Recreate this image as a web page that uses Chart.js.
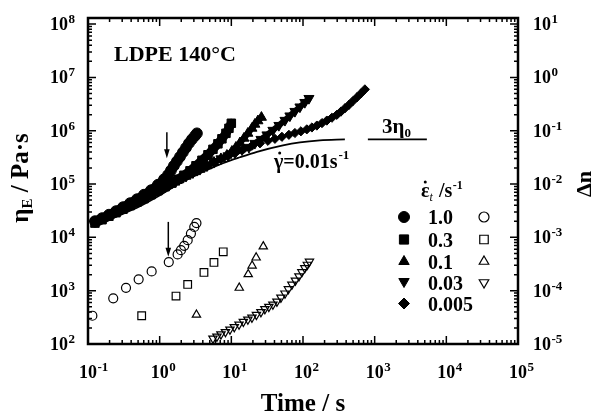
<!DOCTYPE html>
<html>
<head>
<meta charset="utf-8">
<script src="https://cdn.jsdelivr.net/npm/chart.js@4.4.0/dist/chart.umd.min.js"></script>
<style>
  html, body { margin: 0; padding: 0; background: #fff; }
  #wrap { width: 595px; height: 418px; }
</style>
</head>
<body>
<div id="wrap"><canvas id="grafico" width="595" height="418"></canvas></div>
<script>
// --- viscosidade elongacional ηE (Pa·s) x tempo (s), símbolos cheios ---
const t_10 = [0.125, 0.157, 0.196, 0.246, 0.308, 0.386, 0.482, 0.604, 0.757, 0.946, 1.15, 1.31, 1.44, 1.58, 1.74, 1.92, 2.11, 2.33, 2.56, 2.82, 3.11, 3.31];
const eta_10 = [2.01e4, 2.29e4, 2.66e4, 3.10e4, 3.68e4, 4.37e4, 5.19e4, 6.31e4, 7.65e4, 9.70e4, 1.23e5, 1.49e5, 1.81e5, 2.20e5, 2.67e5, 3.24e5, 3.94e5, 4.79e5, 5.81e5, 6.90e5, 8.02e5, 8.93e5];

const t_03 = [0.125, 0.157, 0.196, 0.246, 0.308, 0.386, 0.482, 0.604, 0.757, 0.946, 1.19, 1.48, 1.80, 2.18, 2.65, 3.21, 3.89, 4.72, 5.54, 6.50, 7.39, 8.41, 9.26, 10.0];
const eta_03 = [1.85e4, 2.14e4, 2.49e4, 2.90e4, 3.37e4, 3.93e4, 4.56e4, 5.31e4, 6.31e4, 7.50e4, 8.90e4, 1.04e5, 1.23e5, 1.46e5, 1.77e5, 2.20e5, 2.79e5, 3.54e5, 4.48e5, 5.68e5, 7.05e5, 8.93e5, 1.11e6, 1.38e6];

const t_01 = [0.386, 0.482, 0.604, 0.757, 0.946, 1.19, 1.48, 1.86, 2.33, 2.91, 3.65, 4.57, 5.72, 7.16, 8.68, 10.2, 11.6, 13.2, 15.0, 17.0, 19.4, 21.3, 23.5, 26.3];
const eta_01 = [3.93e4, 4.56e4, 5.31e4, 6.31e4, 7.50e4, 8.90e4, 1.04e5, 1.20e5, 1.40e5, 1.63e5, 1.89e5, 2.20e5, 2.56e5, 2.98e5, 3.46e5, 4.11e5, 4.89e5, 5.93e5, 7.21e5, 8.93e5, 1.11e6, 1.32e6, 1.53e6, 1.78e6];

const t_003 = [0.946, 1.19, 1.48, 1.86, 2.33, 2.91, 3.65, 4.57, 5.72, 7.16, 8.97, 11.2, 14.1, 17.6, 21.3, 25.9, 31.4, 38.0, 46.1, 56.0, 65.6, 77.1, 90.6, 106, 121];
const eta_003 = [7.50e4, 8.90e4, 1.04e5, 1.20e5, 1.40e5, 1.63e5, 1.89e5, 2.20e5, 2.56e5, 2.98e5, 3.39e5, 3.86e5, 4.39e5, 4.89e5, 5.81e5, 6.90e5, 8.38e5, 1.02e6, 1.26e6, 1.57e6, 1.90e6, 2.31e6, 2.80e6, 3.40e6, 4.04e6];

const t_0005 = [1.48, 1.86, 2.33, 2.91, 3.65, 4.57, 5.72, 7.16, 8.97, 11.6, 15.0, 19.4, 25.1, 32.4, 40.6, 50.8, 63.6, 77.1, 93.5, 113, 133, 156, 184, 215, 253, 297, 338, 384, 437, 497, 565, 643, 730];
const eta_0005 = [1.04e5, 1.20e5, 1.40e5, 1.63e5, 1.89e5, 2.20e5, 2.56e5, 2.98e5, 3.39e5, 3.94e5, 4.58e5, 5.21e5, 5.81e5, 6.47e5, 7.05e5, 7.69e5, 8.38e5, 9.06e5, 9.75e5, 1.06e6, 1.15e6, 1.25e6, 1.39e6, 1.55e6, 1.75e6, 1.99e6, 2.28e6, 2.63e6, 3.05e6, 3.60e6, 4.22e6, 5.01e6, 5.96e6];

// --- birrefringência Δn x tempo (s), símbolos abertos (eixo da direita) ---
const tDn_10 = [0.115, 0.225, 0.339, 0.509, 0.773, 1.34, 1.78, 1.98, 2.20, 2.46, 2.73, 3.04, 3.26];
const dn_10 = [3.39e-5, 7.2e-5, 1.13e-4, 1.63e-4, 2.30e-4, 3.44e-4, 4.79e-4, 5.75e-4, 6.93e-4, 8.87e-4, 1.18e-3, 1.57e-3, 1.85e-3];
const tDn_03 = [0.561, 1.69, 2.46, 4.15, 5.72, 7.71];
const dn_03 = [3.39e-5, 7.92e-5, 1.31e-4, 2.20e-4, 3.39e-4, 5.35e-4];
const tDn_01 = [3.26, 12.9, 17.2, 19.5, 22.2, 27.9];
const dn_01 = [3.54e-5, 1.13e-4, 2.03e-4, 2.95e-4, 4.17e-4, 6.76e-4];
const tDn_003 = [5.54, 6.30, 7.16, 8.27, 9.56, 11.0, 12.8, 14.7, 17.0, 19.4, 22.4, 25.9, 29.4, 33.4, 38.0, 43.3, 49.2, 56.0, 62.5, 70.0, 78.3, 87.7, 96.5, 106, 115, 123];
const dn_003 = [1.27e-5, 1.38e-5, 1.52e-5, 1.68e-5, 1.87e-5, 2.08e-5, 2.32e-5, 2.62e-5, 2.88e-5, 3.13e-5, 3.52e-5, 3.97e-5, 4.52e-5, 4.98e-5, 5.50e-5, 6.25e-5, 7.43e-5, 8.89e-5, 1.07e-4, 1.30e-4, 1.55e-4, 1.87e-4, 2.23e-4, 2.65e-4, 3.08e-4, 3.51e-4];

// --- curva linear 3η+(t) em cisalhamento (γ̇ = 0.01 s^-1) e patamar 3η0 ---
const tShear = [0.125, 0.279, 0.531, 1.01, 1.92, 3.65, 7.64, 13.2, 22.8, 52.5, 90.6, 172, 384];
const etaShear = [1.69e4, 2.61e4, 3.84e4, 6.17e4, 1.04e5, 1.59e5, 2.45e5, 3.18e5, 4.03e5, 5.33e5, 6.07e5, 6.61e5, 6.90e5];
const tPlateau = [804, 5350];
const eta3eta0 = 6.9e5;

// setas (início da não-linearidade em 1.0 s^-1)
const tSeta = [1.26, 1.32];
const etaSeta = [9.33e5, 3.04e5];
const dnSeta = [1.95e-3, 4.32e-4];

// legenda e ticks
const rateLabels = ['1.0', '0.3', '0.1', '0.03', '0.005'];
const xDecades = [-1, 0, 1, 2, 3, 4, 5];
const yDecades = [2, 3, 4, 5, 6, 7, 8];
const dnDecades = [-5, -4, -3, -2, -1, 0, 1];

const FONTE = '"Liberation Serif", "Times New Roman", serif';
const zip = (xs, ys) => xs.map((x, i) => ({ x: x, y: ys[i] }));

// símbolos cheios: marcadores + faixa grossa ligando os pontos
function cheio(data, estilo, raio, rot, faixa) {
    return {
        data: data, pointStyle: estilo, pointRadius: raio, rotation: rot || 0,
        backgroundColor: '#000', borderColor: '#000', pointBorderWidth: 1,
        showLine: faixa > 0, borderWidth: faixa || 0, borderCapStyle: 'round', borderJoinStyle: 'round',
        yAxisID: 'y'
    };
}
function aberto(data, estilo, raio, rot) {
    return {
        data: data, pointStyle: estilo, pointRadius: raio, rotation: rot || 0,
        backgroundColor: 'rgba(0,0,0,0)', borderColor: '#000', borderWidth: 1.2,
        showLine: false, yAxisID: 'y2'
    };
}

// texto "10^n" com expoente elevado
function potencia(ctx, exp, x, y, alinha) {
    ctx.font = 'bold 18px ' + FONTE;
    const wb = ctx.measureText('10').width;
    let x0 = x;
    if (alinha === 'center') x0 = x - wb / 2;
    ctx.textAlign = 'left';
    ctx.fillText('10', x0, y);
    ctx.font = 'bold 13px ' + FONTE;
    ctx.fillText(String(exp), x0 + wb + 0.5, y - 7);
}

function seta(ctx, x, y1, y2) {
    ctx.beginPath();
    ctx.moveTo(x, y1);
    ctx.lineTo(x, y2 - 7);
    ctx.lineWidth = 1.5;
    ctx.stroke();
    ctx.beginPath();
    ctx.moveTo(x - 2.8, y2 - 9);
    ctx.lineTo(x + 2.8, y2 - 9);
    ctx.lineTo(x, y2);
    ctx.closePath();
    ctx.fill();
}

const molduraPlugin = {
    id: 'moldura',
    afterDraw(chart) {
        const ctx = chart.ctx;
        const a = chart.chartArea;
        const sx = chart.scales.x, sy = chart.scales.y, sy2 = chart.scales.y2;
        ctx.save();
        ctx.fillStyle = '#000';
        ctx.strokeStyle = '#000';

        // ticks internos nos quatro lados
        ctx.lineWidth = 1.5;
        ctx.beginPath();
        xDecades.forEach(d => {
            for (let m = 1; m <= 9; m++) {
                const v = m * Math.pow(10, d);
                if (v > 1.0001e5) break;
                const px = sx.getPixelForValue(v);
                const len = m === 1 ? 8 : 4;
                ctx.moveTo(px, a.bottom); ctx.lineTo(px, a.bottom - len);
                ctx.moveTo(px, a.top); ctx.lineTo(px, a.top + len);
            }
        });
        yDecades.forEach(d => {
            for (let m = 1; m <= 9; m++) {
                const v = m * Math.pow(10, d);
                if (v > sy.max) break;
                const py = sy.getPixelForValue(v);
                const len = m === 1 ? 8 : 4;
                ctx.moveTo(a.left, py); ctx.lineTo(a.left + len, py);
            }
        });
        dnDecades.forEach(d => {
            for (let m = 1; m <= 9; m++) {
                const v = m * Math.pow(10, d);
                if (v > sy2.max) break;
                const py = sy2.getPixelForValue(v);
                const len = m === 1 ? 8 : 4;
                ctx.moveTo(a.right, py); ctx.lineTo(a.right - len, py);
            }
        });
        ctx.stroke();

        ctx.lineWidth = 2.5;
        ctx.strokeRect(a.left, a.top, a.right - a.left, a.bottom - a.top);

        // rótulos dos eixos
        ctx.textBaseline = 'alphabetic';
        xDecades.forEach(d => potencia(ctx, d, sx.getPixelForValue(Math.pow(10, d)), 378, 'center'));
        yDecades.forEach(d => potencia(ctx, d, 50, sy.getPixelForValue(Math.pow(10, d)) + 6, 'left'));
        dnDecades.forEach(d => potencia(ctx, d, 533, sy2.getPixelForValue(Math.pow(10, d)) + 6, 'left'));

        ctx.textAlign = 'center';
        ctx.font = 'bold 25px ' + FONTE;
        ctx.fillText('Time / s', (a.left + a.right) / 2, 411);

        // título vertical esquerdo: ηE / Pa·s
        ctx.save();
        ctx.translate(28, 178);
        ctx.rotate(-Math.PI / 2);
        ctx.textAlign = 'left';
        ctx.font = 'bold 25px ' + FONTE;
        const w1 = ctx.measureText('η').width;
        ctx.font = 'bold 15px ' + FONTE;
        const w2 = ctx.measureText('E').width;
        ctx.font = 'bold 25px ' + FONTE;
        const w3 = ctx.measureText(' / Pa·s').width;
        const x0 = -(w1 + w2 + w3) / 2;
        ctx.fillText('η', x0, 0);
        ctx.font = 'bold 15px ' + FONTE;
        ctx.fillText('E', x0 + w1, 4);
        ctx.font = 'bold 25px ' + FONTE;
        ctx.fillText(' / Pa·s', x0 + w1 + w2, 0);
        ctx.restore();

        // título vertical direito: Δn
        ctx.save();
        ctx.translate(591, 184);
        ctx.rotate(-Math.PI / 2);
        ctx.textAlign = 'center';
        ctx.font = 'bold 22px ' + FONTE;
        ctx.fillText('Δn', 0, 0);
        ctx.restore();

        // anotações
        ctx.textAlign = 'left';
        ctx.font = 'bold 22px ' + FONTE;
        ctx.fillText('LDPE 140°C', 114, 61);

        ctx.font = 'bold 20px ' + FONTE;
        const wg = ctx.measureText('γ').width;
        ctx.fillText('γ', 274, 168);
        ctx.beginPath(); ctx.arc(274 + wg / 2 + 1, 153, 1.5, 0, Math.PI * 2); ctx.fill();
        ctx.fillText('=0.01s', 274 + wg, 168);
        const wr = ctx.measureText('=0.01s').width;
        ctx.font = 'bold 13px ' + FONTE;
        ctx.fillText('-1', 274 + wg + wr + 1, 159);

        ctx.font = 'bold 21px ' + FONTE;
        ctx.fillText('3η', 382, 133);
        const w3e = ctx.measureText('3η').width;
        ctx.font = 'bold 13px ' + FONTE;
        ctx.fillText('0', 382 + w3e, 137);

        // setas
        seta(ctx, sx.getPixelForValue(tSeta[0]), sy.getPixelForValue(etaSeta[0]), sy.getPixelForValue(etaSeta[1]));
        seta(ctx, sx.getPixelForValue(tSeta[1]), sy2.getPixelForValue(dnSeta[0]), sy2.getPixelForValue(dnSeta[1]));

        // legenda das taxas de deformação
        ctx.font = 'bold 20px ' + FONTE;
        const we = ctx.measureText('ε').width;
        ctx.fillText('ε', 421, 197);
        ctx.beginPath(); ctx.arc(421 + we / 2, 182, 1.5, 0, Math.PI * 2); ctx.fill();
        ctx.font = 'italic 12px ' + FONTE;
        ctx.fillText('t', 421 + we, 201);
        ctx.font = 'bold 20px ' + FONTE;
        ctx.fillText('/s', 439, 197);
        const ws = ctx.measureText('/s').width;
        ctx.font = 'bold 12px ' + FONTE;
        ctx.fillText('-1', 439 + ws + 0.5, 189);

        const cheios = [
            { pointStyle: 'circle', radius: 5.5, rotation: 0 },
            { pointStyle: 'rect', radius: 6.5, rotation: 0 },
            { pointStyle: 'triangle', radius: 6, rotation: 0 },
            { pointStyle: 'triangle', radius: 6, rotation: 180 },
            { pointStyle: 'rectRot', radius: 5.5, rotation: 0 }
        ];
        const abertos = [
            { pointStyle: 'circle', radius: 5, rotation: 0 },
            { pointStyle: 'rect', radius: 6, rotation: 0 },
            { pointStyle: 'triangle', radius: 5.5, rotation: 0 },
            { pointStyle: 'triangle', radius: 5.5, rotation: 180 }
        ];
        const linhas = [217, 239.5, 261.5, 282.5, 303.5];
        rateLabels.forEach((txt, i) => {
            const yl = linhas[i];
            ctx.fillStyle = '#000';
            ctx.lineWidth = 1;
            Chart.helpers.drawPoint(ctx, Object.assign({ borderWidth: 1 }, cheios[i]), 404, yl + (i === 3 ? -1 : 0));
            ctx.font = 'bold 20px ' + FONTE;
            ctx.fillText(txt, 428, yl + 7);
            if (abertos[i]) {
                ctx.fillStyle = 'rgba(0,0,0,0)';
                ctx.lineWidth = 1.2;
                Chart.helpers.drawPoint(ctx, Object.assign({ borderWidth: 1.2 }, abertos[i]), 484, yl);
                ctx.fillStyle = '#000';
            }
        });

        ctx.restore();
    }
};

const grafico = new Chart(document.getElementById('grafico'), {
    type: 'scatter',
    data: {
        datasets: [
            {
                data: zip(tShear, etaShear), showLine: true, pointRadius: 0,
                borderColor: '#000', borderWidth: 1.8, cubicInterpolationMode: 'monotone', yAxisID: 'y'
            },
            {
                data: zip(tPlateau, [eta3eta0, eta3eta0]), showLine: true, pointRadius: 0,
                borderColor: '#000', borderWidth: 1.8, yAxisID: 'y'
            },
            cheio(zip(t_10, eta_10), 'circle', 5.4, 0, 9),
            cheio(zip(t_03, eta_03), 'rect', 6, 0, 9),
            cheio(zip(t_01, eta_01), 'triangle', 5.8, 0, 6),
            cheio(zip(t_003, eta_003), 'triangle', 5.8, 180, 6),
            cheio(zip(t_0005, eta_0005), 'rectRot', 4.6, 0, 0),
            aberto(zip(tDn_10, dn_10), 'circle', 4.5),
            aberto(zip(tDn_03, dn_03), 'rect', 5.4),
            aberto(zip(tDn_01, dn_01), 'triangle', 4.8),
            aberto(zip(tDn_003, dn_003), 'triangle', 4.8, 180)
        ]
    },
    options: {
        responsive: false,
        animation: false,
        devicePixelRatio: 1,
        layout: { padding: { left: 88, right: 77, top: 18, bottom: 74 } },
        plugins: { legend: { display: false }, tooltip: { enabled: false } },
        scales: {
            x: { type: 'logarithmic', min: 0.1, max: 1e5, display: false },
            y: { type: 'logarithmic', min: 100, max: 1.3e8, display: false },
            y2: { type: 'logarithmic', position: 'right', min: 1e-5, max: 13, display: false }
        }
    },
    plugins: [molduraPlugin]
});
</script>
</body>
</html>
